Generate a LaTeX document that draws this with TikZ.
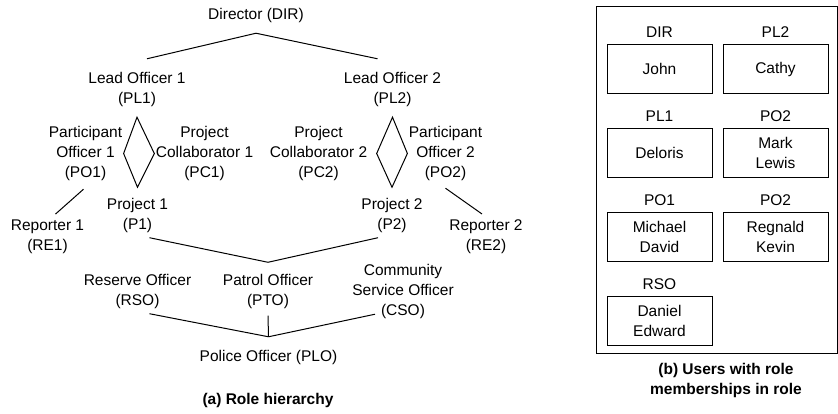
\documentclass[tikz,border=0pt]{standalone}
\usepackage{fontspec}
\setmainfont{Liberation Sans}
\usepackage{tikz}
\usetikzlibrary{positioning}
\tikzset{role/.style={align=center, inner xsep=1pt, inner ysep=5pt},
  userbox/.style={draw, align=center, minimum width=105pt, minimum height=49pt, inner sep=0pt},
  caption/.style={align=center, font=\fontsize{15.5}{20}\selectfont\bfseries}}

\begin{document}
\begin{tikzpicture}[x=1pt, y=-1pt, line width=1pt, font=\fontsize{15.5}{20}\selectfont]
        \useasboundingbox (0,0) rectangle (838,414);

        \node[role] (DIR) at (256,15.5) {Director (DIR)};
        \node[role] (PL1) at (137,89.5) {Lead Officer 1\\(PL1)};
        \node[role] (PL2) at (392.5,89.5) {Lead Officer 2\\(PL2)};
        \node[role] (PO1) at (85.5,153.5) {Participant\\Officer 1\\(PO1)};
        \node[role] (PC1) at (204.5,153.5) {Project\\Collaborator 1\\(PC1)};
        \node[role] (PC2) at (318.5,153.5) {Project\\Collaborator 2\\(PC2)};
        \node[role] (PO2) at (445.5,153.5) {Participant\\Officer 2\\(PO2)};
        \node[role] (P1) at (137.5,215) {Project 1\\(P1)};
        \node[role] (P2) at (392,215) {Project 2\\(P2)};
        \node[role] (RE1) at (47.5,236.5) {Reporter 1\\(RE1)};
        \node[role] (RE2) at (486,236.5) {Reporter 2\\(RE2)};
        \node[role] (RSO) at (137.5,291) {Reserve Officer\\(RSO)};
        \node[role] (PTO) at (268,291) {Patrol Officer\\(PTO)};
        \node[role] (CSO) at (403,291.5) {Community\\Service Officer\\(CSO)};
        \node[role] (PLO) at (268.5,357.5) {Police Officer (PLO)};
        \node[caption] (capA) at (268,400) {(a) Role hierarchy};

        \draw ([yshift=-5pt]DIR.south) -- ([xshift=10pt,yshift=8pt]PL1.north);
        \draw ([yshift=-5pt]DIR.south) -- ([xshift=-15pt,yshift=8pt]PL2.north);

        \draw ([yshift=-5pt]PL1.south) -- (PO1.east) -- ([yshift=5pt]P1.north) -- (PC1.west) -- cycle;
        \draw ([yshift=-5pt]PL2.south) -- ([xshift=8pt]PC2.east) -- ([yshift=5pt]P2.north) -- (PO2.west) -- cycle;

        \draw ([xshift=-2pt,yshift=-3pt]PO1.south) -- ([xshift=8pt]RE1.north);
        \draw ([yshift=-2pt]PO2.south) -- ([xshift=-4pt]RE2.north);

        \draw ([xshift=12pt]P1.south) -- ([yshift=6pt]PTO.north);
        \draw ([xshift=-14pt]P2.south) -- ([yshift=6pt]PTO.north);

        \draw ([xshift=12pt]RSO.south) -- ([yshift=8pt]PLO.north);
        \draw ([yshift=-2pt]PTO.south) -- ([yshift=8pt]PLO.north);
        \draw ([xshift=-28pt,yshift=10pt]CSO.south) -- ([yshift=8pt]PLO.north);

        \node[draw, minimum width=241pt, minimum height=346pt, inner sep=0pt] (users) at (716.5,180) {};
        \foreach \px/\py/\role/\who [count=\i] in {659.5/69/DIR/John, 775.5/69/PL2/Cathy,
            659.5/153/PL1/Deloris, 775.5/153/PO2/{Mark\\Lewis},
            659.5/237/PO1/{Michael\\David}, 775.5/237/PO2/{Regnald\\Kevin},
            659.5/321/RSO/{Daniel\\Edward}}
        {\node[userbox] (box\i) at (\px,\py) {\who};
        \node[inner sep=0pt, above=6pt of box\i] (lab\i) {\role};
        }
        \node[caption] (capB) at (726,380) {(b) Users with role\\memberships in role};

        \end{tikzpicture}
\end{document}
